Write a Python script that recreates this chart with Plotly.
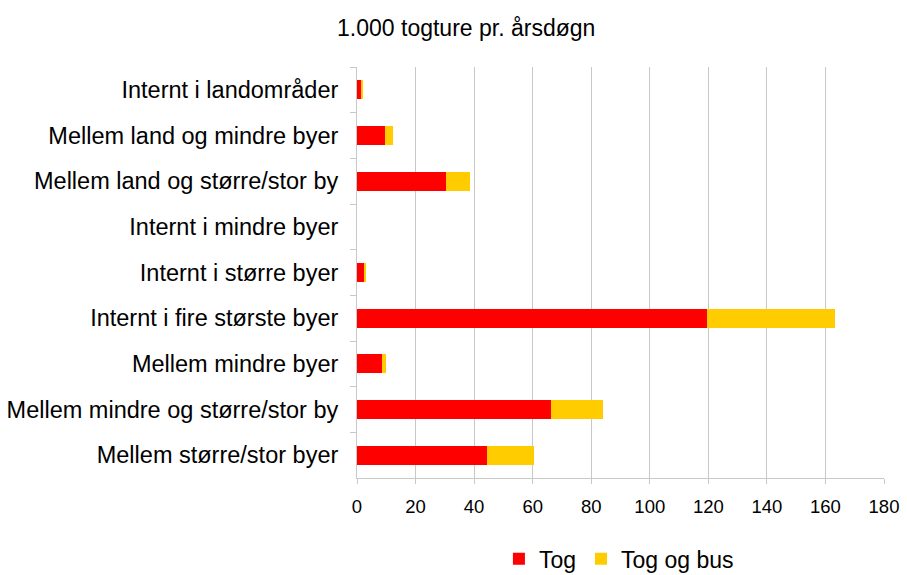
import plotly.graph_objects as go

categories = [
    "Internt i landområder",
    "Mellem land og mindre byer",
    "Mellem land og større/stor by",
    "Internt i mindre byer",
    "Internt i større byer",
    "Internt i fire største byer",
    "Mellem mindre byer",
    "Mellem mindre og større/stor by",
    "Mellem større/stor byer",
]
tog = [1.4, 9.5, 30.3, 0, 2.5, 119.4, 8.5, 66.1, 44.4]
tog_og_bus = [0.7, 2.7, 8.4, 0, 0.6, 44.0, 1.4, 18.0, 16.0]
x_ticks = [0, 20, 40, 60, 80, 100, 120, 140, 160, 180]

font_family = "Liberation Sans, Arial, sans-serif"

fig = go.Figure()
fig.add_trace(go.Bar(y=categories, x=tog, name="Tog", orientation="h",
                     marker=dict(color="#ff0000", line_width=0)))
fig.add_trace(go.Bar(y=categories, x=tog_og_bus, name="Tog og bus", orientation="h",
                     marker=dict(color="#ffcc00", line_width=0)))

fig.update_layout(
    barmode="stack",
    bargap=0.59,
    width=907, height=575,
    margin=dict(l=357, r=23, t=67, b=97, autoexpand=False),
    paper_bgcolor="white", plot_bgcolor="white",
    font=dict(family=font_family, color="#000000"),
    title=dict(text="1.000 togture pr. årsdøgn", x=0.514, xanchor="center",
               y=0.951, yanchor="middle", font=dict(size=23)),
    legend=dict(orientation="h", x=0.497, xanchor="center", yref="container",
                y=0.028, yanchor="middle",
                font=dict(size=23), itemwidth=30, traceorder="normal"),
    showlegend=True,
)
fig.update_xaxes(range=[0, 180], tickvals=x_ticks, showgrid=True, gridcolor="#c8c8c8",
                 gridwidth=1, showline=True, linecolor="#c8c8c8", linewidth=1,
                 ticks="outside", tickcolor="#c8c8c8", ticklen=5, automargin=False,
                 tickfont=dict(size=18.5), ticklabelstandoff=7, zeroline=False)
fig.update_yaxes(autorange="reversed", showline=True, linecolor="#c8c8c8", linewidth=1,
                 ticks="outside", tickson="boundaries", tickcolor="#c8c8c8", ticklen=6,
                 automargin=False, tickfont=dict(size=23.5), ticklabelstandoff=13,
                 showgrid=False)

fig.write_html("out.html")
